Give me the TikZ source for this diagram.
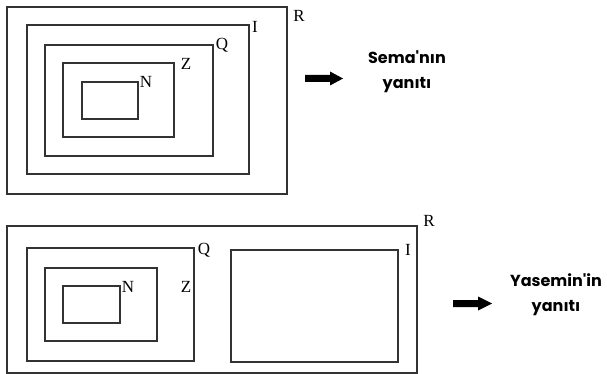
\documentclass[tikz,border=0pt]{standalone}
\usepackage{fontspec}
\setmainfont{Liberation Serif}
\newfontfamily\answerfont{Poppins}
\begin{document}
\begin{tikzpicture}[x=1pt,y=-1pt,
  box/.style={draw=black!80,line width=1.3pt},
  lbl/.style={inner sep=0pt,font=\fontsize{17}{17}\selectfont},
  blockarrow/.style={fill=black,draw=none},
  answer/.style={align=center,inner sep=0pt,font=\answerfont\bfseries\fontsize{16}{25}\selectfont}]
\useasboundingbox (0,0) rectangle (607,374);
% ---- Sema's answer (top) ----
\draw[box] (7,7) rectangle (287,194);
\draw[box] (27,25) rectangle (249,174);
\draw[box] (45,45) rectangle (213,156);
\draw[box] (63,63) rectangle (174,137);
\draw[box] (82,82) rectangle (138,119);
\node[lbl] (tR) at (299,16) {R};
\node[lbl] (tI) at (255,27) {I};
\node[lbl] (tQ) at (222,45) {Q};
\node[lbl] (tZ) at (186,64) {Z};
\node[lbl] (tN) at (146,82) {N};
\fill[blockarrow] (305,75) -- (330,75) -- (330,71.5) -- (343,78.5) -- (330,85.5) -- (330,82) -- (305,82) -- cycle;
\node[answer] (sema) at (407,72) {Sema\textquotesingle nın\\yanıtı};
% ---- Yasemin's answer (bottom) ----
\draw[box] (7,226) rectangle (417,373);
\draw[box] (27,248) rectangle (194,361);
\draw[box] (45,268) rectangle (157,341);
\draw[box] (63,286) rectangle (120,323);
\draw[box] (231,250) rectangle (398,362);
\node[lbl] (bR) at (429,221) {R};
\node[lbl] (bQ) at (204,250) {Q};
\node[lbl] (bN) at (128,287) {N};
\node[lbl] (bZ) at (186,287) {Z};
\node[lbl] (bI) at (408,250) {I};
\fill[blockarrow] (453,300) -- (478,300) -- (478,296.5) -- (492,303.5) -- (478,310.5) -- (478,307) -- (453,307) -- cycle;
\node[answer] (yasemin) at (556,295) {Yasemin\textquotesingle in\\yanıtı};
\end{tikzpicture}
\end{document}
